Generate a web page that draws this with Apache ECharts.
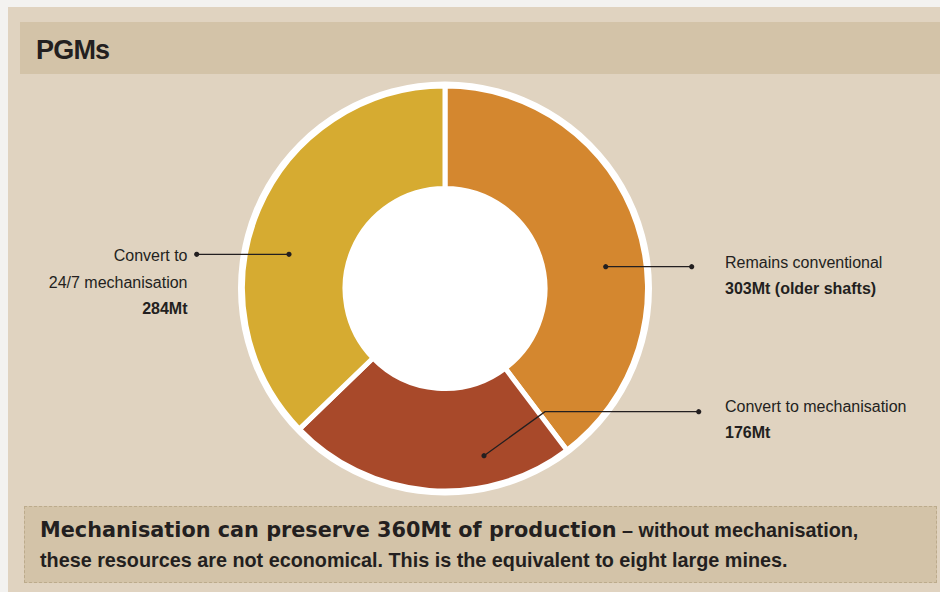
<!DOCTYPE html>
<html>
<head>
<meta charset="utf-8">
<script src="https://cdn.jsdelivr.net/npm/echarts@6/dist/echarts.min.js"></script>
<style>
html,body{margin:0;padding:0;width:940px;height:592px;overflow:hidden;background:#f3f2f0;}
#panel{position:absolute;left:8px;top:7px;width:932px;height:585px;background:#e0d3c0;}
#band{position:absolute;left:20px;top:22px;width:920px;height:52px;background:#d3c3a8;}
#title{position:absolute;left:36px;top:37px;font-family:"Liberation Sans",Arial,sans-serif;font-weight:bold;font-size:27px;line-height:27px;letter-spacing:-0.8px;color:#231f20;}
#note{position:absolute;left:24px;top:506px;width:913px;height:77px;box-sizing:border-box;border:1px dashed #bcab8c;background:#d3c3a8;padding:8px 0 0 15px;font-family:"Liberation Sans",Arial,sans-serif;font-weight:bold;font-size:19.8px;line-height:30px;color:#231f20;white-space:nowrap;}
#note .heavy{font-family:"DejaVu Sans",sans-serif;font-weight:bold;font-size:20.8px;}
#chart{position:absolute;left:0;top:0;width:940px;height:592px;}
</style>
</head>
<body>
<div id="panel"></div>
<div id="band"></div>
<div id="title">PGMs</div>
<div id="note"><span class="heavy">Mechanisation can preserve 360Mt of production</span> – without mechanisation,<br>these resources are not economical. This is the equivalent to eight large mines.</div>
<div id="chart"></div>
<script>
// ---- data ----
const categories = ['Remains conventional', 'Convert to mechanisation', 'Convert to\n24/7 mechanisation'];
const values = [303, 176, 284];
const valueNotes = [' (older shafts)', '', ''];
const unit = 'Mt';
const colors = ['#d4872f', '#a8492a', '#d6ab31'];

// ---- layout (annotation geometry, relative to pie centre) ----
const CX = 445, CY = 288.5;
const annot = [
  { pts: [[160.7, -21.8], [246.7, -21.8]], tx: 725, ty: 249, align: 'left' },
  { pts: [[39, 167.2], [100, 123.2], [253.7, 123.2]], tx: 725, ty: 393, align: 'left' },
  { pts: [[-156, -34.2], [-248.3, -34.2]], tx: 187.5, ty: 242.5, align: 'right' }
];
const INK = '#231f20';

const chart = echarts.init(document.getElementById('chart'), null, { renderer: 'svg' });

const pieData = categories.map((c, i) => ({
  name: c,
  value: values[i],
  itemStyle: { color: colors[i] }
}));

const leaders = [];
annot.forEach(a => {
  leaders.push({
    type: 'polyline',
    shape: { points: a.pts.map(p => [CX + p[0], CY + p[1]]) },
    style: { stroke: INK, lineWidth: 1.3, fill: null },
    z: 100
  });
  [a.pts[0], a.pts[a.pts.length - 1]].forEach(p => {
    leaders.push({
      type: 'circle',
      shape: { cx: CX + p[0], cy: CY + p[1], r: 2.6 },
      style: { fill: INK },
      z: 101
    });
  });
});

chart.setOption({
  backgroundColor: 'transparent',
  animation: false,
  graphic: leaders,
  series: [
    {
      type: 'pie',
      silent: true,
      center: [CX, CY],
      radius: [0, 207],
      label: { show: false },
      labelLine: { show: false },
      itemStyle: { color: '#ffffff' },
      data: [{ name: 'ring', value: 1 }],
      z: 1
    },
    {
      type: 'pie',
      center: [CX, CY],
      radius: [100, 202.5],
      startAngle: 90,
      clockwise: true,
      avoidLabelOverlap: false,
      itemStyle: { borderColor: '#ffffff', borderWidth: 5 },
      emphasis: { disabled: true },
      data: pieData,
      z: 2,
      label: {
        show: true,
        position: 'outside',
        formatter: p => {
          const i = p.dataIndex;
          const nameLines = categories[i].split('\n').map(s => '{n|' + s + '}').join('\n');
          return nameLines + '\n{v|' + values[i] + unit + valueNotes[i] + '}';
        },
        rich: {
          n: { fontFamily: 'Liberation Sans', fontSize: 16, color: INK, lineHeight: 26.5 },
          v: { fontFamily: 'Liberation Sans', fontSize: 16, fontWeight: 'bold', color: INK, lineHeight: 26.5 }
        }
      },
      labelLine: { show: false },
      labelLayout: params => {
        const a = annot[params.dataIndex];
        return { x: a.tx, y: a.ty, align: a.align, verticalAlign: 'top' };
      }
    }
  ]
});
</script>
</body>
</html>
